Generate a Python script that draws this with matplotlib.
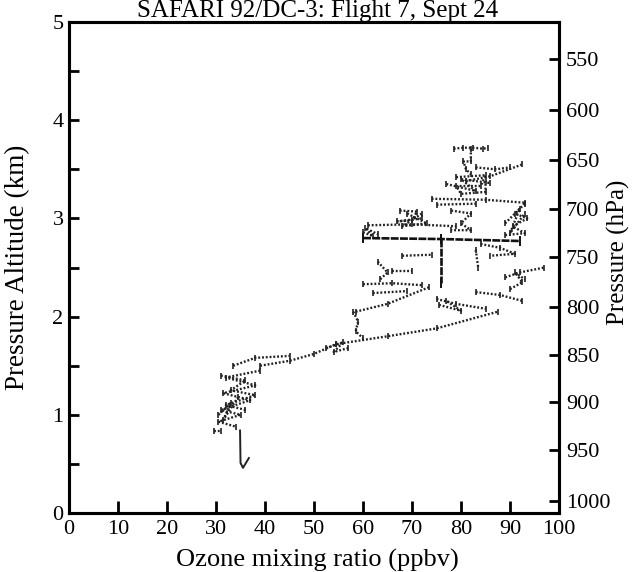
import matplotlib
matplotlib.use("Agg")
import matplotlib.pyplot as plt

plt.rcParams['font.family'] = ['Liberation Serif', 'DejaVu Serif']

# ozone (ppbv) / pressure altitude (km) traces of the descent profile
strands = [
    ([78.5, 80.5, 82.5, 84.5, 85.5], [3.71, 3.72, 3.72, 3.71, 3.72]),
    ([82, 82, 80.5, 81, 82], [3.71, 3.58, 3.58, 3.50, 3.45]),
    ([81, 86, 92.5], [3.38, 3.43, 3.55]),
    ([83, 87, 90], [3.52, 3.50, 3.52]),
    ([79, 85, 84, 79, 80, 85, 85], [3.42, 3.44, 3.33, 3.33, 3.25, 3.27, 3.38]),
    ([77, 83, 80, 86], [3.35, 3.28, 3.40, 3.36]),
    ([74, 85, 93], [3.20, 3.19, 3.16]),
    ([75, 83], [3.14, 3.15]),
    ([93, 91, 93.5, 90.5, 93, 89], [3.15, 3.05, 3.0, 2.92, 2.85, 2.83]),
    ([89, 92, 90, 93], [2.95, 3.10, 2.85, 3.05]),
    ([67.5, 71, 70, 67, 72], [3.08, 3.07, 2.98, 2.97, 3.0]),
    ([69, 73, 68, 72], [3.05, 2.95, 2.92, 3.05]),
    ([78, 82, 80, 82, 78], [3.08, 3.05, 2.95, 2.88, 2.88]),
    ([61, 70, 79], [2.93, 2.94, 2.92]),
    ([60, 62, 60.5, 63], [2.86, 2.82, 2.90, 2.84]),
    ([83, 83.5], [2.68, 2.50]),
    ([84, 88, 91, 86], [2.74, 2.70, 2.64, 2.62]),
    ([68, 74], [2.62, 2.63]),
    ([63, 65, 63.5], [2.56, 2.45, 2.38]),
    ([66, 70], [2.46, 2.46]),
    ([60, 66, 72], [2.33, 2.34, 2.32]),
    ([62, 69], [2.24, 2.26]),
    ([89, 92, 97], [2.40, 2.45, 2.50]),
    ([90, 92.5, 91, 93], [2.28, 2.35, 2.45, 2.38]),
    ([83, 88, 92.5], [2.25, 2.22, 2.16]),
    ([75, 79, 85], [2.18, 2.13, 2.08]),
    ([75.5, 80, 77], [2.12, 2.06, 2.16]),
    ([58.5, 65, 73.5], [2.05, 2.13, 2.30]),
    ([58, 59, 58.5, 60], [2.05, 1.95, 1.85, 1.78]),
    ([54.5, 65, 75, 87.5], [1.72, 1.80, 1.88, 2.05]),
    ([52.5, 56, 54, 57], [1.68, 1.74, 1.64, 1.68]),
    ([39, 45, 50, 54.5], [1.50, 1.55, 1.62, 1.72]),
    ([33.5, 38, 45], [1.50, 1.58, 1.60]),
    ([39, 32, 38, 31.5, 37, 31, 35, 30.5, 34],
     [1.45, 1.38, 1.30, 1.22, 1.15, 1.05, 1.00, 0.93, 0.88]),
    ([31, 36, 33, 38, 32, 36], [1.40, 1.35, 1.25, 1.20, 1.10, 1.05]),
    ([30.5, 33, 31.5, 34.5], [1.00, 1.12, 0.95, 1.18]),
    ([29.5, 31], [0.84, 0.84]),
]

# heavier horizontal and vertical runs
heavy = [
    ([60, 76, 92], [2.80, 2.79, 2.77]),
    ([76, 76], [2.79, 2.34]),
]

# lowest part of the profile, drawn as a continuous line
low_ozone = [34.9, 35.0, 35.5, 36.7]
low_alt = [0.84, 0.51, 0.46, 0.56]

alt_ticks = [0, 1, 2, 3, 4, 5]
ozone_ticks = [0, 10, 20, 30, 40, 50, 60, 70, 80, 90, 100]
pressure_labels = [550, 600, 650, 700, 750, 800, 850, 900, 950, 1000]
pressure_alt = [4.62, 4.10, 3.59, 3.10, 2.61, 2.10, 1.61, 1.13, 0.64, 0.12]

fig = plt.figure(figsize=(6.35, 5.72), dpi=100)
ax = fig.add_axes([0.1087, 0.1031, 0.7717, 0.8584])

for oz, alt in strands:
    ax.plot(oz, alt, color='#222222', lw=1.7, linestyle=(0, (0.8, 0.8)))
    ax.plot(oz, alt, color='#222222', linestyle='none', marker='|',
            ms=5, mew=1.2)
for oz, alt in heavy:
    ax.plot(oz, alt, color='#111111', lw=1.9, linestyle=(0, (3, 0.5)))
    ax.plot(oz, alt, color='#111111', linestyle='none', marker='|',
            ms=7, mew=1.4)
ax.plot(low_ozone, low_alt, color='#222222', lw=1.4)

ax.set_xlim(0, 100)
ax.set_ylim(0, 5)
ax.set_xticks(ozone_ticks)
ax.set_yticks(alt_ticks)
ax.set_yticks([0.5, 1.5, 2.5, 3.5, 4.5], minor=True)
ax.tick_params(axis='both', which='both', direction='in', width=2,
               labelsize=16, top=False, right=False)
ax.tick_params(axis='y', which='major', length=7, pad=4)
ax.tick_params(axis='y', which='minor', length=7)
ax.tick_params(axis='x', which='major', length=9, pad=5)
for s in ax.spines.values():
    s.set_linewidth(2.2)

ax2 = ax.twinx()
ax2.set_ylim(0, 5)
ax2.set_yticks(pressure_alt)
ax2.set_yticklabels([str(p) for p in pressure_labels])
ax2.tick_params(axis='y', direction='in', length=7, width=2, labelsize=16, pad=5)
for s in ax2.spines.values():
    s.set_linewidth(2.2)

ax.set_xlabel('Ozone mixing ratio (ppbv)', fontsize=19)
ax.xaxis.set_label_coords(0.506, -0.096)
ax.xaxis.label.set_va('center')
ax.set_ylabel('Pressure Altitude (km)', fontsize=19.5)
ax.yaxis.set_label_coords(-0.104, 0.5)
ax.yaxis.label.set_va('center')
ax2.set_ylabel('Pressure (hPa)', fontsize=18)
ax2.yaxis.set_label_coords(1.122, 0.53)
ax2.yaxis.label.set_va('center')

fig.text(0.50, 1 - 17 / 572, 'SAFARI 92/DC-3: Flight 7, Sept 24',
         ha='center', va='baseline', fontsize=18)

fig.savefig('out.png', dpi=100)
